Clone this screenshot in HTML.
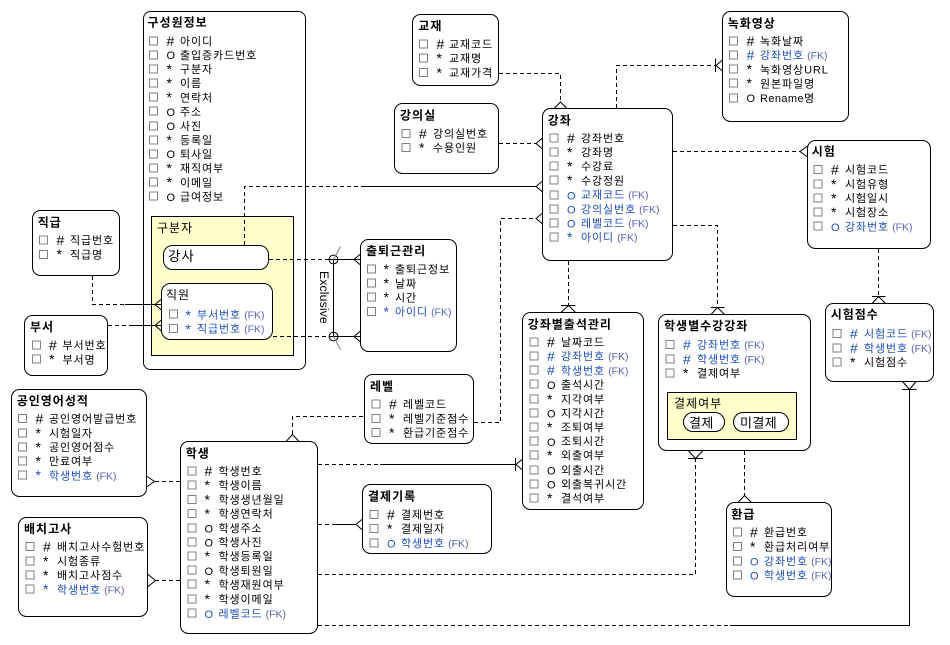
<!DOCTYPE html>
<html><head><meta charset="utf-8">
<style>
html,body{margin:0;padding:0;background:#fff}
svg{display:block}
text{font-family:"Liberation Sans","Noto Sans CJK KR",sans-serif;font-size:11px;letter-spacing:.9px;fill:#000;dominant-baseline:central}
text:not(.x){transform:translateY(1px)}
.t{font-size:12px;font-weight:bold;letter-spacing:1px}
.u{font-size:12px;letter-spacing:1px}
.b{fill:#1f4fb8}
.f{font-size:10.5px;fill:#5a62b8;letter-spacing:0}
.s{font-size:14px;letter-spacing:0}
.o{font-size:11px;letter-spacing:0}
.e{fill:#fff;stroke:#000;stroke-width:1}
.y{fill:#ffffcc;stroke:#000;stroke-width:1}
.c{fill:#fff;stroke:#808080;stroke-width:1;width:8px;height:8px}
.l{fill:none;stroke:#000;stroke-width:1}
.d{fill:none;stroke:#000;stroke-width:1;stroke-dasharray:4 3}
</style></head><body>
<svg xmlns="http://www.w3.org/2000/svg" width="950" height="645" viewBox="0 0 950 645">
<rect width="950" height="645" fill="#fff"/>

<!-- boxes -->
<rect class="e" x="143.5" y="11.5" width="162" height="358" rx="7"/>
<rect class="y" x="151.5" y="216.5" width="142" height="139"/>
<rect class="e" x="163.5" y="245.5" width="105" height="24" rx="9"/>
<rect class="e" x="161.5" y="283.5" width="111" height="56" rx="9"/>
<rect class="e" x="32.5" y="210.5" width="87" height="65" rx="8"/>
<rect class="e" x="24.5" y="315.5" width="83" height="60" rx="8"/>
<rect class="e" x="412.5" y="14.5" width="86" height="71" rx="8"/>
<rect class="e" x="394.5" y="103.5" width="104" height="70" rx="8"/>
<rect class="e" x="542.5" y="108.5" width="130" height="152" rx="8"/>
<rect class="e" x="360.5" y="239.5" width="96" height="112" rx="8"/>
<rect class="e" x="722.5" y="11.5" width="126" height="110" rx="8"/>
<rect class="e" x="807.5" y="140.5" width="123" height="108" rx="8"/>
<rect class="e" x="825.5" y="303.5" width="108" height="78" rx="8"/>
<rect class="e" x="658.5" y="314.5" width="152" height="136" rx="8"/>
<rect class="y" x="667.5" y="392.5" width="129" height="47"/>
<rect class="e" x="683.5" y="412.5" width="41" height="19" rx="9.5"/>
<rect class="e" x="733.5" y="412.5" width="55" height="19" rx="9.5"/>
<rect class="e" x="726.5" y="502.5" width="105" height="94" rx="8"/>
<rect class="e" x="522.5" y="312.5" width="121" height="197" rx="8"/>
<rect class="e" x="364.5" y="374.5" width="109" height="69" rx="8"/>
<rect class="e" x="362.5" y="484.5" width="129" height="69" rx="8"/>
<rect class="e" x="11.5" y="389.5" width="135" height="107" rx="8"/>
<rect class="e" x="18.5" y="517.5" width="129" height="99" rx="8"/>
<rect class="e" x="180.5" y="441.5" width="137" height="192" rx="8"/>

<!-- connectors -->
<path class="d" d="M244.5 245V186.5H362"/><path class="l" d="M362 186.5H536"/>
<path class="l" d="M542.5 181L536 186.5L542.5 192"/>
<path class="d" d="M269 259.5H329"/><path class="l" d="M329 259.5H360"/>
<path class="l" d="M360.5 254L354 259.5L360.5 265"/>
<path class="d" d="M273 336.5H329"/><path class="l" d="M329 336.5H360"/>
<path class="l" d="M360.5 331L354 336.5L360.5 342"/>
<path class="l" d="M333.5 259.5V336.5"/>
<circle class="l" cx="333.5" cy="259.5" r="4.4"/><circle class="l" cx="333.5" cy="336.5" r="4.4"/>
<path d="M333.5 259.5L340.5 246.5M333.5 336.5L340.5 349.5" fill="none" stroke="#808080"/>
<text class="x" transform="translate(320,271) rotate(90)" style="font-size:12.3px;letter-spacing:.1px;dominant-baseline:auto" y="0" x="0">Exclusive</text>
<path class="d" d="M92.5 276V304.5H125"/><path class="l" d="M125 304.5H161"/>
<path class="l" d="M161.5 299L155 304.5L161.5 310"/>
<path class="d" d="M108 325.5H130"/><path class="l" d="M130 325.5H161"/>
<path class="l" d="M161.5 320L155 325.5L161.5 331"/>
<path class="d" d="M499 73.5H560.5V102"/>
<path class="l" d="M554 108.5L560.5 102L567 108.5"/>
<path class="d" d="M499 143.5H536"/>
<path class="l" d="M542.5 138L536 143.5L542.5 149"/>
<path class="d" d="M474 422.5H500.5V218.5H536"/>
<path class="l" d="M542.5 213L536 218.5L542.5 224"/>
<path class="d" d="M616.5 108V65.5H716"/>
<path class="l" d="M715.5 58.5V72M716 65.5L722.5 60M716 65.5L722.5 71"/>
<path class="d" d="M673 151.5H800"/>
<path class="l" d="M807.5 146L800 151.5L807.5 157"/>
<path class="d" d="M673 225.5H717.5V307"/>
<path class="l" d="M711 307.5H724.5M717.5 307.5L711 314.5M717.5 307.5L724.5 314.5"/>
<path class="d" d="M568.5 261V305"/>
<path class="l" d="M561 305.5H575.5M568.5 305.5L561 312.5M568.5 305.5L575.5 312.5"/>
<path class="d" d="M878.5 249V296"/>
<path class="l" d="M872 296.5H885.5M878.5 296.5L872 303.5M878.5 296.5L885.5 303.5"/>
<path class="d" d="M318 625.5H730"/><path class="l" d="M730 625.5H909.5V389"/>
<path class="l" d="M902 389.5H916.5M909.5 389.5L902.5 381.5M909.5 389.5L916 381.5"/>
<path class="d" d="M318 574.5H695.5V458"/>
<path class="l" d="M688 458.5H703M695.5 458.5L688 450.5M695.5 458.5L703 450.5"/>
<path class="d" d="M318 464.5H380"/><path class="l" d="M380 464.5H516"/>
<path class="l" d="M515.5 458V471M516 464.5L522.5 459M516 464.5L522.5 470"/>
<path class="d" d="M318 524.5H335"/><path class="l" d="M335 524.5H356"/>
<path class="l" d="M362.5 519L356 524.5L362.5 530"/>
<path class="d" d="M292.5 434V416.5H364"/>
<path class="l" d="M286 441.5L292.5 434.5L299 441.5"/>
<path class="d" d="M180 481.5H155"/>
<path class="l" d="M146.5 476L154.5 481.5L146.5 487"/>
<path class="d" d="M180 580.5H155"/>
<path class="l" d="M147.5 574L155.5 580.5L147.5 587"/>
<path class="d" d="M744.5 451V496"/>
<path class="l" d="M738 502.5L744.5 495.5L751.5 502.5"/>

<!-- titles -->
<text class="t" x="147.5" y="21.7">구성원정보</text>
<text class="t" x="37.7" y="221.7">직급</text>
<text class="t" x="30" y="326">부서</text>
<text class="t" x="418.3" y="25">교재</text>
<text class="t" x="400" y="114.3">강의실</text>
<text class="t" x="547.7" y="119.3">강좌</text>
<text class="t" x="366" y="250">출퇴근관리</text>
<text class="t" x="727.7" y="22.3">녹화영상</text>
<text class="t" x="811.7" y="150.3">시험</text>
<text class="t" x="830.7" y="313.3">시험점수</text>
<text class="t" x="664" y="325">학생별수강강좌</text>
<text class="t" x="527.7" y="323.3">강좌별출석관리</text>
<text class="t" x="370" y="385.3">레벨</text>
<text class="t" x="368" y="495.3">결제기록</text>
<text class="t" x="16.7" y="400">공인영어성적</text>
<text class="t" x="24" y="528">배치고사</text>
<text class="t" x="185.7" y="452.3">학생</text>
<text class="t" x="731.3" y="513.3">환급</text>
<text x="157" y="227" class="u">구분자</text>
<text x="168" y="255.5" style="font-size:13.5px;letter-spacing:1px">강사</text>
<text x="166" y="294" class="u">직원</text>
<text x="674" y="402.5" class="u">결제여부</text>
<text x="689" y="422" style="font-size:13px;letter-spacing:.4px">결제</text>
<text x="740" y="422" style="font-size:13px;letter-spacing:.4px">미결제</text>

<!-- 구성원정보 -->
<g transform="translate(149.5,0)">
<rect class="c" y="37"/><text class="s" x="17" y="40">#</text><text x="30.5" y="41">아이디</text>
<rect class="c" y="51"/><text class="o" x="17" y="55">O</text><text x="30.5" y="55">출입증카드번호</text>
<rect class="c" y="65"/><text class="s" x="17" y="68">*</text><text x="30.5" y="69">구분자</text>
<rect class="c" y="79"/><text class="s" x="17" y="82">*</text><text x="30.5" y="83">이름</text>
<rect class="c" y="93"/><text class="s" x="17" y="96">*</text><text x="30.5" y="97.5">연락처</text>
<rect class="c" y="107"/><text class="o" x="17" y="112">O</text><text x="30.5" y="111.5">주소</text>
<rect class="c" y="122"/><text class="o" x="17" y="126">O</text><text x="30.5" y="126">사진</text>
<rect class="c" y="136"/><text class="s" x="17" y="139">*</text><text x="30.5" y="140">등록일</text>
<rect class="c" y="150"/><text class="o" x="17" y="154">O</text><text x="30.5" y="154">퇴사일</text>
<rect class="c" y="164"/><text class="s" x="17" y="167">*</text><text x="30.5" y="168">재직여부</text>
<rect class="c" y="178"/><text class="s" x="17" y="181">*</text><text x="30.5" y="182.5">이메일</text>
<rect class="c" y="192"/><text class="o" x="17" y="197">O</text><text x="30.5" y="196.5">급여정보</text>
</g>
<!-- 직급 -->
<g transform="translate(39.5,0)">
<rect class="c" y="236"/><text class="s" x="17" y="239">#</text><text x="30.5" y="240">직급번호</text>
<rect class="c" y="250.5"/><text class="s" x="17" y="253">*</text><text x="30.5" y="254.5">직급명</text>
</g>
<!-- 부서 -->
<g transform="translate(32.5,0)">
<rect class="c" y="341"/><text class="s" x="16.5" y="344">#</text><text x="30" y="345">부서번호</text>
<rect class="c" y="355"/><text class="s" x="16.5" y="358">*</text><text x="30" y="359.5">부서명</text>
</g>
<!-- 직원 -->
<g transform="translate(169.5,0)">
<rect class="c" y="310"/><text class="s b" x="16" y="314">*</text><text class="b" x="27.5" y="314.5">부서번호<tspan class="f" dx="3">(FK)</tspan></text>
<rect class="c" y="324.5"/><text class="s b" x="16" y="328">*</text><text class="b" x="27.5" y="328.5">직급번호<tspan class="f" dx="3">(FK)</tspan></text>
</g>
<!-- 교재 -->
<g transform="translate(419.5,0)">
<rect class="c" y="40"/><text class="s" x="17" y="43">#</text><text x="29.5" y="44">교재코드</text>
<rect class="c" y="54"/><text class="s" x="17" y="57">*</text><text x="29.5" y="58">교재명</text>
<rect class="c" y="68.5"/><text class="s" x="17" y="71.5">*</text><text x="29.5" y="72.5">교재가격</text>
</g>
<!-- 강의실 -->
<g transform="translate(402,0)">
<rect class="c" y="129.5"/><text class="s" x="17" y="132.5">#</text><text x="31" y="133.5">강의실번호</text>
<rect class="c" y="143.5"/><text class="s" x="17" y="146.5">*</text><text x="31" y="147.5">수용인원</text>
</g>
<!-- 강좌 -->
<g transform="translate(550,0)">
<rect class="c" y="134"/><text class="s" x="17" y="137">#</text><text x="31" y="138">강좌번호</text>
<rect class="c" y="148"/><text class="s" x="17" y="151">*</text><text x="31" y="152">강좌명</text>
<rect class="c" y="162"/><text class="s" x="17" y="165">*</text><text x="31" y="166">수강료</text>
<rect class="c" y="176"/><text class="s" x="17" y="179">*</text><text x="31" y="180.5">수강정원</text>
<rect class="c" y="191"/><text class="o b" x="17" y="195.5">O</text><text class="b" x="31" y="194.5">교재코드<tspan class="f" dx="3">(FK)</tspan></text>
<rect class="c" y="205"/><text class="o b" x="17" y="209.5">O</text><text class="b" x="31" y="209">강의실번호<tspan class="f" dx="3">(FK)</tspan></text>
<rect class="c" y="219"/><text class="o b" x="17" y="223.5">O</text><text class="b" x="31" y="223">레벨코드<tspan class="f" dx="3">(FK)</tspan></text>
<rect class="c" y="233"/><text class="s b" x="17" y="236">*</text><text class="b" x="31" y="237">아이디<tspan class="f" dx="3">(FK)</tspan></text>
</g>
<!-- 출퇴근관리 -->
<g transform="translate(367.5,0)">
<rect class="c" y="265"/><text class="s" x="16" y="268">*</text><text x="27.5" y="269">출퇴근정보</text>
<rect class="c" y="279"/><text class="s" x="16" y="282">*</text><text x="27.5" y="283.5">날짜</text>
<rect class="c" y="293"/><text class="s" x="16" y="296">*</text><text x="27.5" y="297.5">시간</text>
<rect class="c" y="307.5"/><text class="s b" x="16" y="310.5">*</text><text class="b" x="27.5" y="311.5">아이디<tspan class="f" dx="3">(FK)</tspan></text>
</g>
<!-- 녹화영상 -->
<g transform="translate(729.5,0)">
<rect class="c" y="37"/><text class="s" x="17" y="40">#</text><text x="30.5" y="41">녹화날짜</text>
<rect class="c" y="51"/><text class="s b" x="17" y="54">#</text><text class="b" x="30.5" y="55">강좌번호<tspan class="f" dx="3">(FK)</tspan></text>
<rect class="c" y="65"/><text class="s" x="17" y="68">*</text><text x="30.5" y="69.5">녹화영상URL</text>
<rect class="c" y="79"/><text class="s" x="17" y="82">*</text><text x="30.5" y="83.5">원본파일명</text>
<rect class="c" y="94"/><text class="o" x="17" y="98">O</text><text x="30.5" y="98" style="letter-spacing:.4px">Rename명</text>
</g>
<!-- 시험 -->
<g transform="translate(814,0)">
<rect class="c" y="165.5"/><text class="s" x="17" y="168.5">#</text><text x="31" y="169.5">시험코드</text>
<rect class="c" y="180"/><text class="s" x="17" y="183">*</text><text x="31" y="184">시험유형</text>
<rect class="c" y="194"/><text class="s" x="17" y="197">*</text><text x="31" y="198">시험일시</text>
<rect class="c" y="208"/><text class="s" x="17" y="211">*</text><text x="31" y="212">시험장소</text>
<rect class="c" y="222"/><text class="o b" x="17" y="227">O</text><text class="b" x="31" y="226.5">강좌번호<tspan class="f" dx="3">(FK)</tspan></text>
</g>
<!-- 시험점수 -->
<g transform="translate(833,0)">
<rect class="c" y="329.5"/><text class="s b" x="17" y="332.5">#</text><text class="b" x="31" y="333.5">시험코드<tspan class="f" dx="3">(FK)</tspan></text>
<rect class="c" y="344"/><text class="s b" x="17" y="347">#</text><text class="b" x="31" y="348">학생번호<tspan class="f" dx="3">(FK)</tspan></text>
<rect class="c" y="358"/><text class="s" x="17" y="361">*</text><text x="31" y="362">시험점수</text>
</g>
<!-- 학생별수강강좌 -->
<g transform="translate(666,0)">
<rect class="c" y="340.5"/><text class="s b" x="17" y="343.5">#</text><text class="b" x="31" y="344.5">강좌번호<tspan class="f" dx="3">(FK)</tspan></text>
<rect class="c" y="355"/><text class="s b" x="17" y="358">#</text><text class="b" x="31" y="359">학생번호<tspan class="f" dx="3">(FK)</tspan></text>
<rect class="c" y="369"/><text class="s" x="17" y="372">*</text><text x="31" y="373">결제여부</text>
</g>
<!-- 강좌별출석관리 -->
<g transform="translate(530,0)">
<rect class="c" y="338"/><text class="s" x="17" y="341">#</text><text x="31" y="342">날짜코드</text>
<rect class="c" y="352"/><text class="s b" x="17" y="355">#</text><text class="b" x="31" y="356">강좌번호<tspan class="f" dx="3">(FK)</tspan></text>
<rect class="c" y="366"/><text class="s b" x="17" y="369">#</text><text class="b" x="31" y="370.5">학생번호<tspan class="f" dx="3">(FK)</tspan></text>
<rect class="c" y="380"/><text class="o" x="17" y="385">O</text><text x="31" y="384.5">출석시간</text>
<rect class="c" y="395"/><text class="s" x="17" y="398">*</text><text x="31" y="399">지각여부</text>
<rect class="c" y="409"/><text class="o" x="17" y="413.5">O</text><text x="31" y="413">지각시간</text>
<rect class="c" y="423"/><text class="s" x="17" y="426">*</text><text x="31" y="427">조퇴여부</text>
<rect class="c" y="437"/><text class="o" x="17" y="442">O</text><text x="31" y="441">조퇴시간</text>
<rect class="c" y="451"/><text class="s" x="17" y="454">*</text><text x="31" y="455">외출여부</text>
<rect class="c" y="466"/><text class="o" x="17" y="470.5">O</text><text x="31" y="470">외출시간</text>
<rect class="c" y="480"/><text class="o" x="17" y="484.5">O</text><text x="31" y="484">외출복귀시간</text>
<rect class="c" y="494"/><text class="s" x="17" y="497">*</text><text x="31" y="498">결석여부</text>
</g>
<!-- 레벨 -->
<g transform="translate(372,0)">
<rect class="c" y="400"/><text class="s" x="17" y="403">#</text><text x="31" y="404">레벨코드</text>
<rect class="c" y="414.5"/><text class="s" x="17" y="417.5">*</text><text x="31" y="418.5">레벨기준점수</text>
<rect class="c" y="428.5"/><text class="s" x="17" y="431.5">*</text><text x="31" y="432.5">환급기준점수</text>
</g>
<!-- 결제기록 -->
<g transform="translate(370,0)">
<rect class="c" y="510.5"/><text class="s" x="17" y="513.5">#</text><text x="31" y="514.5">결제번호</text>
<rect class="c" y="524.5"/><text class="s" x="17" y="527.5">*</text><text x="31" y="528.5">결제일자</text>
<rect class="c" y="539"/><text class="o b" x="17" y="543.5">O</text><text class="b" x="31" y="543">학생번호<tspan class="f" dx="3">(FK)</tspan></text>
</g>
<!-- 공인영어성적 -->
<g transform="translate(18.5,0)">
<rect class="c" y="414.5"/><text class="s" x="17" y="417.5">#</text><text x="30.5" y="418.5">공인영어발급번호</text>
<rect class="c" y="429"/><text class="s" x="17" y="432">*</text><text x="30.5" y="433">시험일자</text>
<rect class="c" y="443"/><text class="s" x="17" y="446">*</text><text x="30.5" y="447">공인영어점수</text>
<rect class="c" y="457"/><text class="s" x="17" y="460">*</text><text x="30.5" y="461">만료여부</text>
<rect class="c" y="471"/><text class="s b" x="17" y="474">*</text><text class="b" x="30.5" y="475.5">학생번호<tspan class="f" dx="3">(FK)</tspan></text>
</g>
<!-- 배치고사 -->
<g transform="translate(26,0)">
<rect class="c" y="542.5"/><text class="s" x="17" y="545.5">#</text><text x="31" y="546.5">배치고사수험번호</text>
<rect class="c" y="557"/><text class="s" x="17" y="560">*</text><text x="31" y="561">시험종류</text>
<rect class="c" y="571"/><text class="s" x="17" y="574">*</text><text x="31" y="575">배치고사점수</text>
<rect class="c" y="585"/><text class="s b" x="17" y="588">*</text><text class="b" x="31" y="589.5">학생번호<tspan class="f" dx="3">(FK)</tspan></text>
</g>
<!-- 학생 -->
<g transform="translate(188,0)">
<rect class="c" y="467"/><text class="s" x="16.5" y="470">#</text><text x="30.5" y="471">학생번호</text>
<rect class="c" y="481"/><text class="s" x="16.5" y="484">*</text><text x="30.5" y="485">학생이름</text>
<rect class="c" y="495.5"/><text class="s" x="16.5" y="498.5">*</text><text x="30.5" y="499.5">학생생년월일</text>
<rect class="c" y="509.5"/><text class="s" x="16.5" y="512.5">*</text><text x="30.5" y="513.5">학생연락처</text>
<rect class="c" y="524"/><text class="o" x="16.5" y="528.5">O</text><text x="30.5" y="528">학생주소</text>
<rect class="c" y="538"/><text class="o" x="16.5" y="542.5">O</text><text x="30.5" y="542">학생사진</text>
<rect class="c" y="552"/><text class="s" x="16.5" y="555">*</text><text x="30.5" y="556">학생등록일</text>
<rect class="c" y="566"/><text class="o" x="16.5" y="571">O</text><text x="30.5" y="570.5">학생퇴원일</text>
<rect class="c" y="580"/><text class="s" x="16.5" y="583">*</text><text x="30.5" y="584.5">학생재원여부</text>
<rect class="c" y="595"/><text class="s" x="16.5" y="598">*</text><text x="30.5" y="599">학생이메일</text>
<rect class="c" y="609"/><text class="o b" x="16.5" y="614">O</text><text class="b" x="30.5" y="613.5">레벨코드<tspan class="f" dx="3">(FK)</tspan></text>
</g>
<!-- 환급 -->
<g transform="translate(733.5,0)">
<rect class="c" y="528"/><text class="s" x="16.5" y="531">#</text><text x="30.5" y="532">환급번호</text>
<rect class="c" y="542.5"/><text class="s" x="16.5" y="545.5">*</text><text x="30.5" y="546.5">환급처리여부</text>
<rect class="c" y="557"/><text class="o b" x="16.5" y="561.5">O</text><text class="b" x="30.5" y="561">강좌번호<tspan class="f" dx="3">(FK)</tspan></text>
<rect class="c" y="571"/><text class="o b" x="16.5" y="575.5">O</text><text class="b" x="30.5" y="575">학생번호<tspan class="f" dx="3">(FK)</tspan></text>
</g>
</svg>
</body></html>
